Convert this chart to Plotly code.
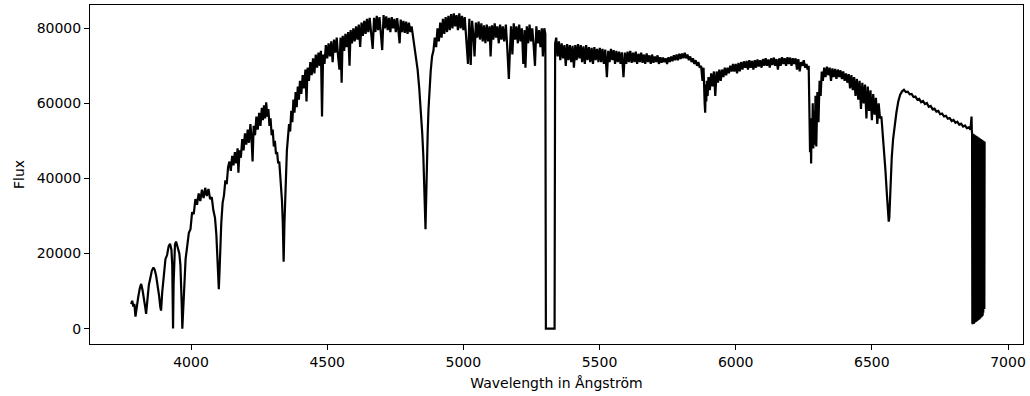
import plotly.graph_objects as go

# Spectrum of the star, split into wavelength segments (Angstrom) with flux values.

# 3780-4136: higher Balmer lines, Ca II K/H, H-delta
balmer_wl = [3780, 3784, 3788, 3792, 3796, 3800, 3806, 3812, 3817, 3822,
             3828, 3832, 3835, 3839, 3845, 3850, 3856, 3862, 3867, 3872,
             3878, 3883, 3887, 3890, 3894, 3900, 3906, 3912, 3918, 3923,
             3928, 3931, 3932, 3934, 3936, 3941, 3945, 3949, 3953, 3957,
             3961, 3964, 3966, 3968, 3970, 3972, 3976, 3980, 3986, 3992,
             3998, 4004, 4010, 4016, 4022, 4028, 4034, 4040, 4046, 4052,
             4058, 4064, 4070, 4076, 4082, 4088, 4093, 4097, 4100, 4102,
             4104, 4107, 4111, 4116, 4121, 4126, 4131, 4136]
balmer_flux = [6500, 7400, 5900, 6600, 3200, 5500, 8400, 10800, 11900, 10200,
               8000, 5600, 3900, 7200, 11600, 13300, 15400, 16300, 15600, 14000,
               11500, 8600, 5800, 4800, 9500, 14500, 18500, 19600, 22000, 22600,
               21000, 17000, 12000, 0, 12000, 22400, 23200, 22200, 21500, 20000,
               17000, 12000, 6000, 0, 3000, 8000, 14000, 18500, 22000, 25500,
               26500, 31000, 30500, 34500, 33000, 36000, 34000, 37000, 34800, 37500,
               35300, 37200, 34500, 35000, 31500, 29500, 25000, 19500, 13000, 10500,
               14000, 21000, 28000, 33500, 35500, 39500, 38500, 43000]

# 4141-4481: H-gamma region
hgamma_wl = [4141, 4146, 4151, 4156, 4161, 4166, 4171, 4174, 4178, 4183,
             4188, 4193, 4198, 4203, 4208, 4213, 4218, 4222, 4226, 4230,
             4235, 4240, 4245, 4250, 4255, 4260, 4264, 4268, 4272, 4276,
             4280, 4284, 4288, 4292, 4296, 4300, 4304, 4308, 4312, 4316,
             4320, 4324, 4328, 4331, 4334, 4337, 4339, 4340, 4341, 4343,
             4346, 4349, 4352, 4356, 4360, 4364, 4368, 4372, 4376, 4380,
             4384, 4388, 4392, 4396, 4400, 4405, 4410, 4415, 4420, 4424,
             4428, 4433, 4438, 4443, 4448, 4453, 4458, 4463, 4468, 4473,
             4477, 4481]
hgamma_flux = [44500, 42000, 46000, 43500, 47000, 44000, 48000, 41500, 47500, 45500,
               50500, 47500, 52000, 49000, 53000, 49500, 54500, 51000, 44500, 54000,
               51500, 56500, 53000, 57500, 54000, 58800, 55500, 59500, 56000, 60300,
               56500, 58500, 54000, 56000, 51500, 53000, 48500, 50000, 46500, 47000,
               44000, 44500, 41000, 38500, 34000, 28000, 21000, 17800, 21000, 28000,
               36000, 42000, 47500, 51000, 54500, 52500, 58000, 55000, 61000, 57500,
               63000, 59000, 64500, 61000, 66000, 62500, 67500, 64000, 69000, 60500,
               69500, 66000, 71000, 67500, 72000, 68000, 73000, 69500, 73500, 70000,
               74000, 56500]

# 4485-4890: continuum peak and H-beta
hbeta_wl = [4485, 4490, 4495, 4500, 4505, 4510, 4515, 4520, 4525, 4530,
            4535, 4540, 4545, 4549, 4553, 4557, 4562, 4567, 4572, 4577,
            4582, 4586, 4591, 4596, 4601, 4606, 4611, 4616, 4621, 4626,
            4631, 4636, 4641, 4646, 4651, 4656, 4661, 4667, 4672, 4677,
            4682, 4687, 4692, 4697, 4702, 4707, 4712, 4717, 4722, 4727,
            4732, 4737, 4742, 4747, 4752, 4757, 4762, 4766, 4770, 4775,
            4780, 4785, 4790, 4795, 4800, 4805, 4810, 4815, 4820, 4826,
            4832, 4838, 4844, 4849, 4853, 4856, 4858, 4860, 4861, 4862,
            4864, 4866, 4869, 4872, 4876, 4880, 4885, 4890]
hbeta_flux = [73000, 70500, 75500, 72000, 76000, 72500, 76500, 71000, 77000, 73500,
              77500, 72500, 69000, 77500, 65500, 78000, 74000, 78500, 75000, 79000,
              70000, 79500, 76000, 80000, 76500, 80500, 77000, 81000, 75000, 81500,
              78000, 82000, 78500, 82500, 79000, 82800, 78000, 74500, 82800, 79000,
              83300, 79500, 83000, 79000, 74200, 83500, 80000, 83200, 79500, 82800,
              79000, 83000, 80000, 82500, 79000, 82700, 78500, 76000, 82300, 79000,
              82000, 78800, 81800, 78500, 81500, 79000, 80500, 78000, 76000, 73000,
              69000, 64000, 58000, 52000, 46000, 40000, 33000, 27000, 26500, 30000,
              38000, 45000, 52000, 58500, 64000, 68500, 72500, 74000]

# 4895-5303: Mg b region up to the start of the detector gap
green_wl = [4895, 4900, 4905, 4910, 4915, 4920, 4925, 4930, 4935, 4940,
            4945, 4950, 4955, 4960, 4965, 4970, 4975, 4980, 4985, 4990,
            4995, 5000, 5005, 5010, 5017, 5022, 5027, 5032, 5037, 5041,
            5046, 5051, 5056, 5061, 5066, 5071, 5076, 5081, 5086, 5091,
            5096, 5100, 5105, 5110, 5115, 5120, 5125, 5130, 5135, 5140,
            5145, 5150, 5156, 5161, 5167, 5171, 5175, 5180, 5185, 5190,
            5195, 5200, 5205, 5210, 5215, 5220, 5225, 5228, 5233, 5238,
            5243, 5248, 5253, 5258, 5263, 5268, 5273, 5278, 5283, 5288,
            5292, 5297, 5301, 5303]
green_flux = [77500, 75000, 80000, 76500, 81500, 77500, 82500, 78500, 83000, 79000,
              83300, 79500, 83800, 80000, 84000, 80500, 83500, 79500, 84000, 80000,
              83300, 79500, 83000, 78500, 70500, 82500, 70200, 82000, 78000, 72500,
              81500, 77500, 81800, 77000, 81300, 76500, 80800, 76000, 81000, 76500,
              80500, 72500, 80800, 77000, 81300, 77500, 80500, 76000, 81000, 77000,
              80500, 76500, 81000, 75000, 66500, 74000, 80500, 73000, 81300, 77000,
              80500, 76000, 81000, 76500, 80000, 70500, 79500, 69500, 80500, 76000,
              81000, 76500, 80000, 75500, 70000, 80500, 76000, 79500, 75000, 80000,
              72500, 80000, 78500, 0]

# 5335-5878: after the gap, towards Na D
yellow_wl = [5335, 5337, 5341, 5346, 5351, 5356, 5361, 5366, 5371, 5376,
             5381, 5386, 5391, 5396, 5401, 5406, 5411, 5416, 5421, 5426,
             5431, 5436, 5441, 5446, 5451, 5456, 5461, 5466, 5471, 5476,
             5481, 5486, 5491, 5496, 5501, 5506, 5511, 5516, 5521, 5527,
             5532, 5537, 5542, 5547, 5552, 5557, 5562, 5567, 5572, 5577,
             5582, 5588, 5593, 5598, 5603, 5608, 5613, 5618, 5623, 5628,
             5633, 5638, 5643, 5648, 5653, 5658, 5663, 5668, 5673, 5678,
             5683, 5688, 5693, 5698, 5703, 5708, 5713, 5718, 5723, 5728,
             5733, 5738, 5743, 5748, 5753, 5758, 5763, 5768, 5773, 5778,
             5783, 5788, 5793, 5798, 5803, 5808, 5813, 5818, 5823, 5828,
             5833, 5838, 5843, 5848, 5853, 5858, 5863, 5868, 5873, 5878]
yellow_flux = [0, 76000, 77500, 72500, 76500, 71500, 76000, 72000, 75500, 70000,
               75800, 71500, 75500, 71000, 75300, 69500, 75500, 71500, 75800, 72000,
               75500, 71000, 75200, 70500, 75500, 71500, 75000, 71000, 74800, 70500,
               75000, 71500, 74500, 71000, 74800, 71000, 74500, 70500, 74300, 67000,
               74000, 71000, 74500, 71500, 74200, 70500, 74000, 71000, 73800, 70500,
               73600, 67000, 73500, 70500, 73800, 71000, 74000, 70800, 73500, 71000,
               73800, 70500, 73200, 71000, 73500, 70800, 73000, 70500, 73300, 71000,
               72800, 70500, 73000, 70800, 72500, 71000, 72800, 70500, 72300, 70800,
               72200, 71000, 72000, 70500, 72300, 71000, 72500, 71200, 72800, 71500,
               73000, 71500, 73200, 71800, 73300, 72000, 73500, 72000, 73000, 71500,
               72500, 71000, 72000, 70500, 71500, 70000, 71000, 69500, 70000, 66000]

# 5882-6268: Na D and the red continuum
orange_wl = [5882, 5886, 5888, 5890, 5892, 5894, 5897, 5900, 5905, 5910,
             5915, 5920, 5925, 5930, 5935, 5940, 5945, 5950, 5955, 5960,
             5965, 5970, 5975, 5980, 5985, 5990, 5995, 6000, 6005, 6010,
             6015, 6020, 6025, 6030, 6035, 6040, 6045, 6050, 6055, 6060,
             6065, 6070, 6075, 6080, 6085, 6090, 6095, 6100, 6105, 6110,
             6115, 6120, 6125, 6130, 6135, 6140, 6145, 6150, 6155, 6160,
             6165, 6170, 6175, 6180, 6185, 6190, 6195, 6200, 6205, 6210,
             6215, 6220, 6225, 6230, 6235, 6240, 6245, 6250, 6255, 6260,
             6264, 6268]
orange_flux = [69500, 60000, 57500, 65000, 60500, 66000, 62000, 67000, 63500, 68000,
               64500, 68500, 62000, 68500, 65500, 69000, 66000, 69000, 67000, 69500,
               67500, 69500, 68000, 70000, 68500, 70500, 68500, 70500, 68000, 70800,
               68500, 71000, 69000, 71200, 69500, 71300, 69000, 71500, 69500, 71300,
               69000, 71500, 69500, 71700, 69800, 71500, 69500, 71800, 70000, 72000,
               70000, 71700, 69500, 72000, 70200, 72200, 70000, 71800, 69000, 72000,
               70000, 72300, 70500, 72000, 70000, 72300, 70500, 72200, 70000, 72000,
               70500, 72000, 69000, 71800, 68500, 71000, 70000, 71500, 69500, 70500,
               69000, 70000]

# 6271-6590: telluric band near 6280 and H-alpha
halpha_wl = [6271, 6273, 6275, 6277, 6279, 6281, 6283, 6285, 6287, 6290,
             6293, 6296, 6300, 6304, 6308, 6312, 6316, 6320, 6325, 6330,
             6335, 6340, 6345, 6350, 6355, 6360, 6365, 6370, 6375, 6380,
             6385, 6390, 6395, 6400, 6405, 6410, 6415, 6420, 6425, 6430,
             6435, 6440, 6445, 6450, 6455, 6460, 6465, 6470, 6475, 6480,
             6485, 6490, 6495, 6500, 6505, 6510, 6515, 6520, 6525, 6530,
             6535, 6540, 6545, 6550, 6555, 6559, 6562, 6564, 6566, 6569,
             6573, 6578, 6584, 6590]
halpha_flux = [60000, 47000, 55000, 44000, 56000, 50000, 60000, 48000, 58000, 49000,
               62000, 48500, 63000, 55000, 66000, 62000, 68500, 66000, 69500, 67000,
               69800, 67500, 69500, 66000, 69300, 67000, 69200, 66500, 69000, 67000,
               68800, 66500, 68500, 66000, 68000, 65500, 67800, 64000, 67500, 63500,
               67000, 62000, 66500, 61000, 66000, 58500, 65500, 60000, 65000, 56000,
               64500, 58000, 63500, 55500, 62500, 57000, 61500, 54500, 60000, 56000,
               56500, 52000, 48000, 42000, 36000, 31500, 28500, 29500, 34000, 40000,
               45500, 50500, 55000, 57500]

# 6597-6867: smooth red tail
red_wl = [6597, 6604, 6611, 6618, 6625, 6632, 6639, 6646, 6653, 6660,
          6667, 6674, 6681, 6688, 6695, 6702, 6709, 6716, 6723, 6730,
          6737, 6744, 6751, 6758, 6765, 6772, 6779, 6786, 6793, 6800,
          6807, 6814, 6821, 6828, 6835, 6842, 6849, 6856, 6862, 6866,
          6867]
red_flux = [60500, 62300, 63200, 63600, 63000, 63100, 62400, 62500, 61700, 61800,
            61000, 61200, 60300, 60600, 59800, 60100, 59100, 59300, 58400, 58600,
            57800, 58000, 57100, 57300, 56500, 56700, 55900, 56100, 55300, 55600,
            54800, 55100, 54300, 54600, 53800, 54100, 53400, 53600, 53000, 56500,
            53000]

# 6868-6915: telluric O2 B band, saturated oscillation
band_wl = [6868, 6869, 6870, 6871, 6872, 6873, 6874, 6875, 6876, 6877,
           6878, 6879, 6880, 6881, 6882, 6883, 6884, 6885, 6886, 6887,
           6888, 6889, 6890, 6891, 6892, 6893, 6894, 6895, 6896, 6897,
           6898, 6899, 6900, 6901, 6902, 6903, 6904, 6905, 6906, 6907,
           6908, 6909, 6910, 6911, 6912, 6913, 6914, 6915]
band_flux = [52000, 1500, 51800, 1200, 51900, 1800, 51600, 1300, 51700, 2000,
             51400, 1600, 51500, 2200, 51200, 1800, 51300, 2400, 51000, 2000,
             51100, 2600, 50800, 2300, 50900, 2800, 50600, 2500, 50700, 3000,
             50400, 2800, 50500, 3300, 50200, 3100, 50300, 3600, 50000, 3500,
             50100, 4200, 49800, 4600, 49900, 5200, 49600, 49500]

segments = [
    (balmer_wl, balmer_flux), (hgamma_wl, hgamma_flux), (hbeta_wl, hbeta_flux),
    (green_wl, green_flux), (yellow_wl, yellow_flux), (orange_wl, orange_flux),
    (halpha_wl, halpha_flux), (red_wl, red_flux), (band_wl, band_flux),
]

wavelength, flux = [], []
for wl, fx in segments:
    if len(wl) != len(fx):
        raise ValueError(f"segment starting at {wl[0]}: {len(wl)} vs {len(fx)}")
    wavelength += wl
    flux += fx

y_ticks = [0, 20000, 40000, 60000, 80000]
x_ticks = [4000, 4500, 5000, 5500, 6000, 6500, 7000]

fig = go.Figure(
    go.Scatter(
        x=wavelength, y=flux, mode="lines",
        line=dict(color="black", width=2.2),
        hoverinfo="skip",
    )
)

axis_style = dict(
    showline=True, mirror=True, linecolor="black", linewidth=1,
    ticks="outside", ticklen=5, tickwidth=1, tickcolor="black",
    showgrid=False, zeroline=False,
    tickfont=dict(family="DejaVu Sans", size=14, color="black"),
)

fig.update_layout(
    width=1030, height=396,
    margin=dict(l=90, r=4, t=5, b=52),
    paper_bgcolor="white", plot_bgcolor="white",
    showlegend=False,
    font=dict(family="DejaVu Sans", size=14, color="black"),
    xaxis=dict(
        range=[3629, 7055],
        tickvals=x_ticks, ticktext=[str(v) for v in x_ticks],
        title=dict(text="Wavelength in Ångström", standoff=9,
                   font=dict(family="DejaVu Sans", size=14, color="black")),
        **axis_style,
    ),
    yaxis=dict(
        range=[-4100, 86200],
        tickvals=y_ticks, ticktext=[str(v) for v in y_ticks],
        title=dict(text="Flux", standoff=8,
                   font=dict(family="DejaVu Sans", size=14, color="black")),
        **axis_style,
    ),
)

fig.write_html("out.html", config={"displayModeBar": False})
